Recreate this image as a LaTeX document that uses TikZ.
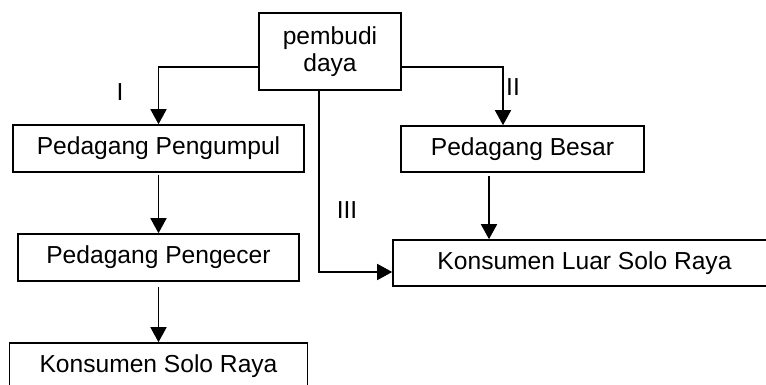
\documentclass[tikz,border=0pt]{standalone}
\usepackage{fontspec}
\setmainfont{Liberation Sans}
\usetikzlibrary{arrows.meta}
\tikzstyle{box} = [draw, line width=0.8pt, inner sep=0pt, align=center]
\tikzstyle{flow} = [line width=0.8pt, -{Triangle[width=8pt,length=7.5pt]}]
\tikzstyle{tag} = [inner sep=0pt]

\begin{document}
\begin{tikzpicture}[x=0.5pt, y=-0.5pt, font=\fontsize{12.3}{13.5}\selectfont]
\clip (0,0) rectangle (766,385);

    \node[box, minimum width=71pt, minimum height=38.5pt] (pembudi) at (330,51.5) {pembudi\\daya};
	\node[box, minimum width=145.5pt, minimum height=23.5pt] (pengumpul) at (158.5,148.5) {Pedagang Pengumpul};
	\node[box, minimum width=140.5pt, minimum height=23.5pt] (pengecer) at (158.5,257.5) {Pedagang Pengecer};
	\node[box, minimum width=149pt, minimum height=23.5pt] (solo) at (158.5,366.5) {Konsumen Solo Raya};
	\node[box, minimum width=121.5pt, minimum height=23pt] (besar) at (522.5,149) {Pedagang Besar};
	\node[box, minimum width=191.5pt, minimum height=23pt] (luar) at (584.5,263) {Konsumen Luar Solo Raya};

    \draw[flow] ([yshift=-7.75pt]pembudi.west) -| (pengumpul.north);
    \draw[flow] ([yshift=-7.75pt]pembudi.east) -| ([xshift=-9.75pt]besar.north);
    \draw[flow] ([xshift=-5.5pt]pembudi.south) |- ([yshift=-4.5pt]luar.west);
    \draw[flow, shorten <=1pt] (pengumpul.south) -- (pengecer.north);
    \draw[flow, shorten <=2.5pt] (pengecer.south) -- (solo.north);
    \draw[flow, shorten <=1.5pt] ([xshift=-16.75pt]besar.south) -- ([xshift=-16.75pt]besar.south |- luar.north);

    \node[tag] (one) at (120,92) {I};
    \node[tag] (two) at (513,87) {II};
    \node[tag] (three) at (347,210) {III};
\end{tikzpicture}
\end{document}
